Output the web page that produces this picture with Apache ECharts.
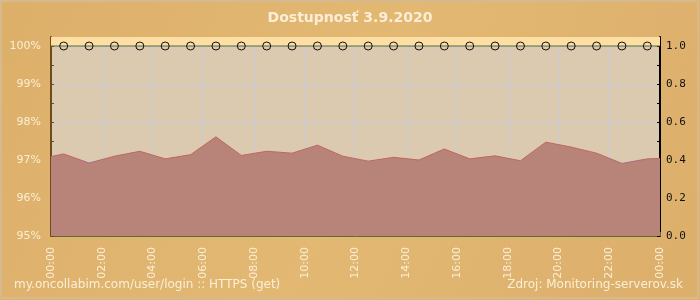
<!DOCTYPE html>
<html><head><meta charset="utf-8">
<script src="https://cdn.jsdelivr.net/npm/echarts@6/dist/echarts.min.js"></script>
<style>html,body{margin:0;padding:0;background:#dfb36d}#c{width:700px;height:300px}</style>
</head><body><div id="c"></div>
<script>
const titleText = 'Dostupnosť 3.9.2020';
const footerLeft = 'my.oncollabim.com/user/login :: HTTPS (get)';
const footerRight = 'Zdroj: Monitoring-serverov.sk';
// hours of day (0 = 00:00, 24 = next 00:00)
const hours = [0, 0.5, 1.5, 2.5, 3.5, 4.5, 5.5, 6.5, 7.5, 8.5, 9.5, 10.5, 11.5, 12.5, 13.5, 14.5, 15.5, 16.5, 17.5, 18.5, 19.5, 20.5, 21.5, 22.5, 23.5, 24];
// availability in percent
const availability = [97.09, 97.16, 96.92, 97.10, 97.23, 97.03, 97.14, 97.61, 97.12, 97.23, 97.18, 97.39, 97.10, 96.97, 97.07, 97.00, 97.29, 97.03, 97.11, 96.98, 97.47, 97.34, 97.18, 96.91, 97.03, 97.04];
// status (right axis), 1 = up
const status = [1, 1, 1, 1, 1, 1, 1, 1, 1, 1, 1, 1, 1, 1, 1, 1, 1, 1, 1, 1, 1, 1, 1, 1, 1, 1];
const xTicks = ['00:00','02:00','04:00','06:00','08:00','10:00','12:00','14:00','16:00','18:00','20:00','22:00','00:00'];

const chart = echarts.init(document.getElementById('c'), null, {renderer: 'canvas'});
const cream = '#fbeed6';
const yMax = 100 + 9 / 38;
const rMax = 1 + 9 / 190;
chart.setOption({
  animation: false,
  backgroundColor: {
    type: 'linear', x: 0, y: 0, x2: 1, y2: 1,
    colorStops: [{offset: 0, color: '#ddb06a'}, {offset: 0.5, color: '#e2b873'}, {offset: 1, color: '#dcaf6b'}]
  },
  graphic: [
    {type: 'rect', shape: {x: 1, y: 1, width: 697, height: 297}, style: {fill: 'none', stroke: '#d6b98c', lineWidth: 2}},
    {type: 'text', left: 'center', top: 11, style: {text: titleText, fill: cream, font: 'bold 14px "DejaVu Sans"'}},
    {type: 'text', left: 14, top: 279, style: {text: footerLeft, fill: cream, font: '12px "DejaVu Sans"'}},
    {type: 'text', right: 17, top: 279, style: {text: footerRight, fill: cream, font: '12px "DejaVu Sans"'}}
  ],
  grid: {left: 51, right: 40, top: 37, bottom: 64, show: true, backgroundColor: '#dccab0', borderWidth: 0},
  xAxis: {
    type: 'value', min: 0, max: 24, interval: 2,
    axisLine: {show: true, onZero: false, lineStyle: {color: '#5b6b35', width: 1}},
    axisTick: {show: true, inside: true, length: 4, lineStyle: {color: '#5b6b35'}},
    minorTick: {show: true, splitNumber: 4, length: 3, lineStyle: {color: '#5b6b35'}},
    splitLine: {show: true, lineStyle: {color: '#c9cbd6', width: 1}},
    axisLabel: {
      rotate: 90, margin: 11, color: cream, fontFamily: 'DejaVu Sans', fontSize: 11,
      formatter: v => xTicks[Math.round(v / 2)]
    }
  },
  yAxis: [{
    type: 'value', min: 95, max: yMax, interval: 1, position: 'left',
    axisLine: {show: true, lineStyle: {color: '#6d4b1c', width: 2}},
    axisTick: {show: true, inside: true, length: 3, lineStyle: {color: '#6d4b1c'}},
    minorTick: {show: true, splitNumber: 2, length: 3, lineStyle: {color: '#6d4b1c'}},
    splitLine: {show: true, lineStyle: {color: '#c9cbd6', width: 1}},
    axisLabel: {
      color: cream, fontFamily: 'DejaVu Sans', fontSize: 11, margin: 10,
      formatter: v => (Math.abs(v - Math.round(v)) < 1e-6 ? Math.round(v) + '%' : '')
    }
  }, {
    type: 'value', min: 0, max: rMax, interval: 0.2, position: 'right',
    axisLine: {show: true, lineStyle: {color: '#000000', width: 2}},
    axisTick: {show: true, inside: true, length: 3, lineStyle: {color: '#000'}},
    minorTick: {show: true, splitNumber: 2, length: 3, lineStyle: {color: '#000'}},
    splitLine: {show: false},
    axisLabel: {
      color: '#111', fontFamily: 'DejaVu Sans Mono', fontSize: 11, margin: 6,
      formatter: v => (Math.abs(v * 5 - Math.round(v * 5)) < 1e-6 ? v.toFixed(1) : '')
    }
  }],
  series: [{
    type: 'line', yAxisIndex: 0, data: [], z: 1,
    markArea: {
      silent: true,
      itemStyle: {color: '#fddfa6'},
      data: [[{yAxis: 100}, {yAxis: yMax}]]
    }
  }, {
    type: 'line', yAxisIndex: 0,
    data: hours.map((h, i) => [h, availability[i]]),
    symbol: 'none', smooth: false,
    lineStyle: {color: '#c0675c', width: 1},
    areaStyle: {color: '#b8847a', opacity: 1, origin: 'start'},
    z: 2
  }, {
    type: 'line', yAxisIndex: 1,
    data: hours.map((h, i) => ({
      value: [h, status[i]],
      symbol: (h === 0 || h === 24) ? 'none' : 'circle'
    })),
    symbolSize: 8, showSymbol: true,
    itemStyle: {color: 'rgba(0,0,0,0)', borderColor: '#111', borderWidth: 1},
    lineStyle: {color: '#5b6b35', width: 1.2},
    z: 5
  }]
});
</script></body></html>
